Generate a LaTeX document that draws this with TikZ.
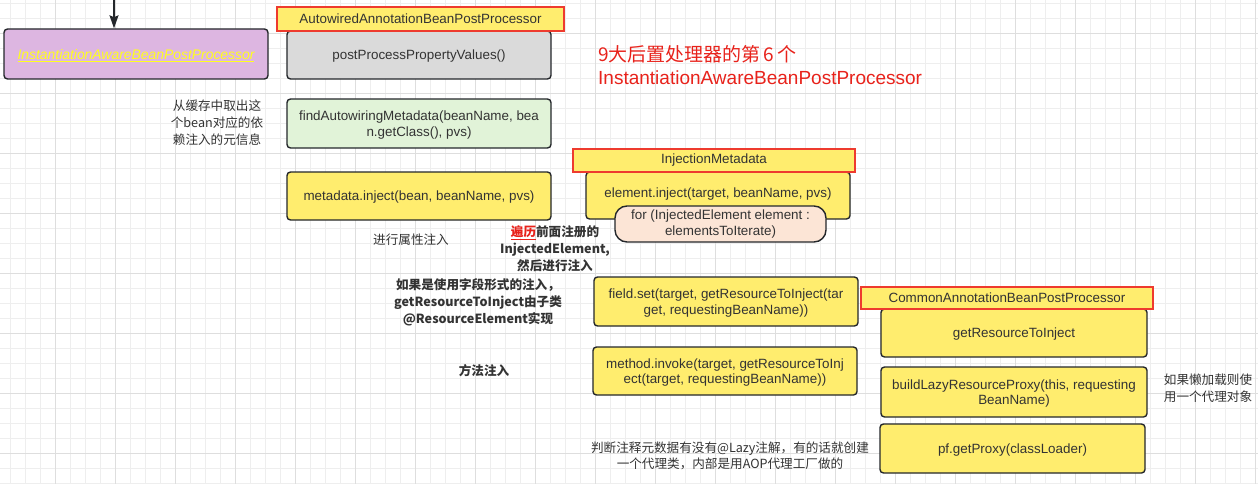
\documentclass[tikz,border=0pt]{standalone}
\usepackage{fontspec}
\setmainfont{Liberation Sans}
\newfontfamily\cjk{Noto Sans CJK SC}
\usetikzlibrary{arrows.meta}
\definecolor{gridminor}{HTML}{EEEEEE}
\definecolor{gridmajor}{HTML}{DEDEDE}
\definecolor{edge}{HTML}{24272B}
\definecolor{txt}{HTML}{333333}
\definecolor{redline}{HTML}{EE3B2E}
\definecolor{redtxt}{HTML}{E8221B}
\definecolor{yel}{HTML}{FFED6E}
\definecolor{lav}{HTML}{DDB6E1}
\definecolor{greyfill}{HTML}{DADADA}
\definecolor{greenfill}{HTML}{E1F3D8}
\definecolor{peach}{HTML}{FCE5D6}
\definecolor{iabtxt}{HTML}{FFFF1E}
\newcommand{\lowr}[1]{\raisebox{-1.5pt}[\height][\depth]{#1}}
\tikzset{
  gridmin/.style={draw=gridminor, line width=1pt},
  gridmaj/.style={draw=gridmajor, line width=1pt},
  box/.style={draw=edge, line width=1.4pt, rounded corners=3.5pt, inner sep=0pt,
    align=center, text=txt, font=\fontsize{13.4}{15.5}\selectfont},
  tag/.style={draw=redline, line width=1.8pt, fill=yel, inner sep=0pt, text=txt,
    font=\fontsize{13.4}{15.5}\selectfont},
  note/.style={align=center, text=txt, inner sep=0pt, font=\cjk\fontsize{12.6}{17}\selectfont},
  notebold/.style={align=center, text=txt, inner sep=0pt, font=\cjk\bfseries\fontsize{12.6}{17}\selectfont},
  flow/.style={draw=edge, line width=1.5pt, -{Stealth[length=13pt,width=9pt,inset=2pt]}}
}
\begin{document}
\begin{tikzpicture}[x=1pt,y=-1pt]
\useasboundingbox (0,0) rectangle (1258,484);
\fill[white] (0,0) rectangle (1258,484);
% grid
\foreach \i in {0,...,83} { \draw[gridmin] ({10+15*\i},0) -- ({10+15*\i},484); }
\foreach \j in {0,...,32} { \draw[gridmin] (0,{3.333+15*\j}) -- (1258,{3.333+15*\j}); }
\foreach \i in {0,...,20} { \draw[gridmaj] ({55+60*\i},0) -- ({55+60*\i},484); }
\foreach \j in {0,...,7} { \draw[gridmaj] (0,{33.333+60*\j}) -- (1258,{33.333+60*\j}); }

% left box and incoming arrow
\node[box, fill=lav, minimum width=264pt, minimum height=50pt, font=\fontsize{13.9}{16}\selectfont] (iabpp) at (136,54)
  {\lowr{\color{iabtxt}\underline{\itshape InstantiationAwareBeanPostProcessor}}};
\coordinate (top) at (114,0);
\draw[flow] (top) -- (top |- iabpp.north);

% Autowired column
\node[box, fill=greyfill, minimum width=264pt, minimum height=48pt] (ppv) at (419,55)
  {\lowr{postProcessPropertyValues()}};
\node[tag, minimum width=287pt, minimum height=24pt] (aabpp) at (420.5,19)
  {AutowiredAnnotationBeanPostProcessor};
\node[box, fill=greenfill, minimum width=264pt, minimum height=49pt] (fam) at (419,123.5)
  {\lowr{findAutowiringMetadata(beanName, bea}\\\lowr{n.getClass(), pvs)}};
\node[box, fill=yel, minimum width=264pt, minimum height=48pt] (meta) at (419,196)
  {\lowr{metadata.inject(bean, beanName, pvs)}};

% title
\node[anchor=west, align=left, inner sep=0pt, text=redtxt, font=\fontsize{19}{23}\selectfont] (title) at (598,65.5)
  {{\cjk 9大后置处理器的第\hspace{3pt}6\hspace{3pt}个}\\InstantiationAwareBeanPostProcessor};

% notes left
\node[note] (note1) at (217,123) {从缓存中取出这\\个bean对应的依\\赖注入的元信息};
\node[note] (note2) at (411,240) {进行属性注入};

% InjectionMetadata
\node[box, fill=yel, minimum width=264pt, minimum height=47pt] (einj) at (718,195.5)
  {\raisebox{1pt}[\height][\depth]{element.inject(target, beanName, pvs)}};
\node[tag, minimum width=282pt, minimum height=23pt] (injmeta) at (714,160.5)
  {InjectionMetadata};
\node[box, fill=peach, rounded corners=12pt, minimum width=211pt, minimum height=36pt] (forloop) at (720.5,224)
  {for (InjectedElement element :\\elementsToIterate)};

\node[notebold] (note3) at (555,249) {{\color{redtxt}\underline{遍历}}前面注册的\\InjectedElement,\\然后进行注入};
\node[notebold] (note4) at (478,302) {如果是使用字段形式的注入，\\getResourceToInject由子类\\@ResourceElement实现};
\node[notebold] (note5) at (484,371) {方法注入};

\node[box, fill=yel, minimum width=264pt, minimum height=49pt] (fset) at (726,301.5)
  {\lowr{field.set(target, getResourceToInject(tar}\\\lowr{get, requestingBeanName))}};
\node[box, fill=yel, minimum width=264pt, minimum height=48pt] (minv) at (725,371)
  {\lowr{method.invoke(target, getResourceToInj}\\\lowr{ect(target, requestingBeanName))}};

% Common column
\node[box, fill=yel, minimum width=266pt, minimum height=48pt] (gri) at (1014,333)
  {\lowr{getResourceToInject}};
\node[tag, minimum width=292pt, minimum height=22pt] (cabpp) at (1007,298)
  {CommonAnnotationBeanPostProcessor};
\node[box, fill=yel, minimum width=266pt, minimum height=50pt] (blrp) at (1014,392)
  {\lowr{buildLazyResourceProxy(this, requesting}\\\lowr{BeanName)}};
\node[box, fill=yel, minimum width=265pt, minimum height=49pt] (pfgp) at (1012.5,448.5)
  {\lowr{pf.getProxy(classLoader)}};

\node[note] (note6) at (1208,388) {如果懒加载则使\\用一个代理对象};
\node[note, font=\cjk\fontsize{12.6}{16.5}\selectfont] (note7) at (730,456) {判断注释元数据有没有@Lazy注解，有的话就创建\\一个代理类，内部是用AOP代理工厂做的};
\end{tikzpicture}
\end{document}
